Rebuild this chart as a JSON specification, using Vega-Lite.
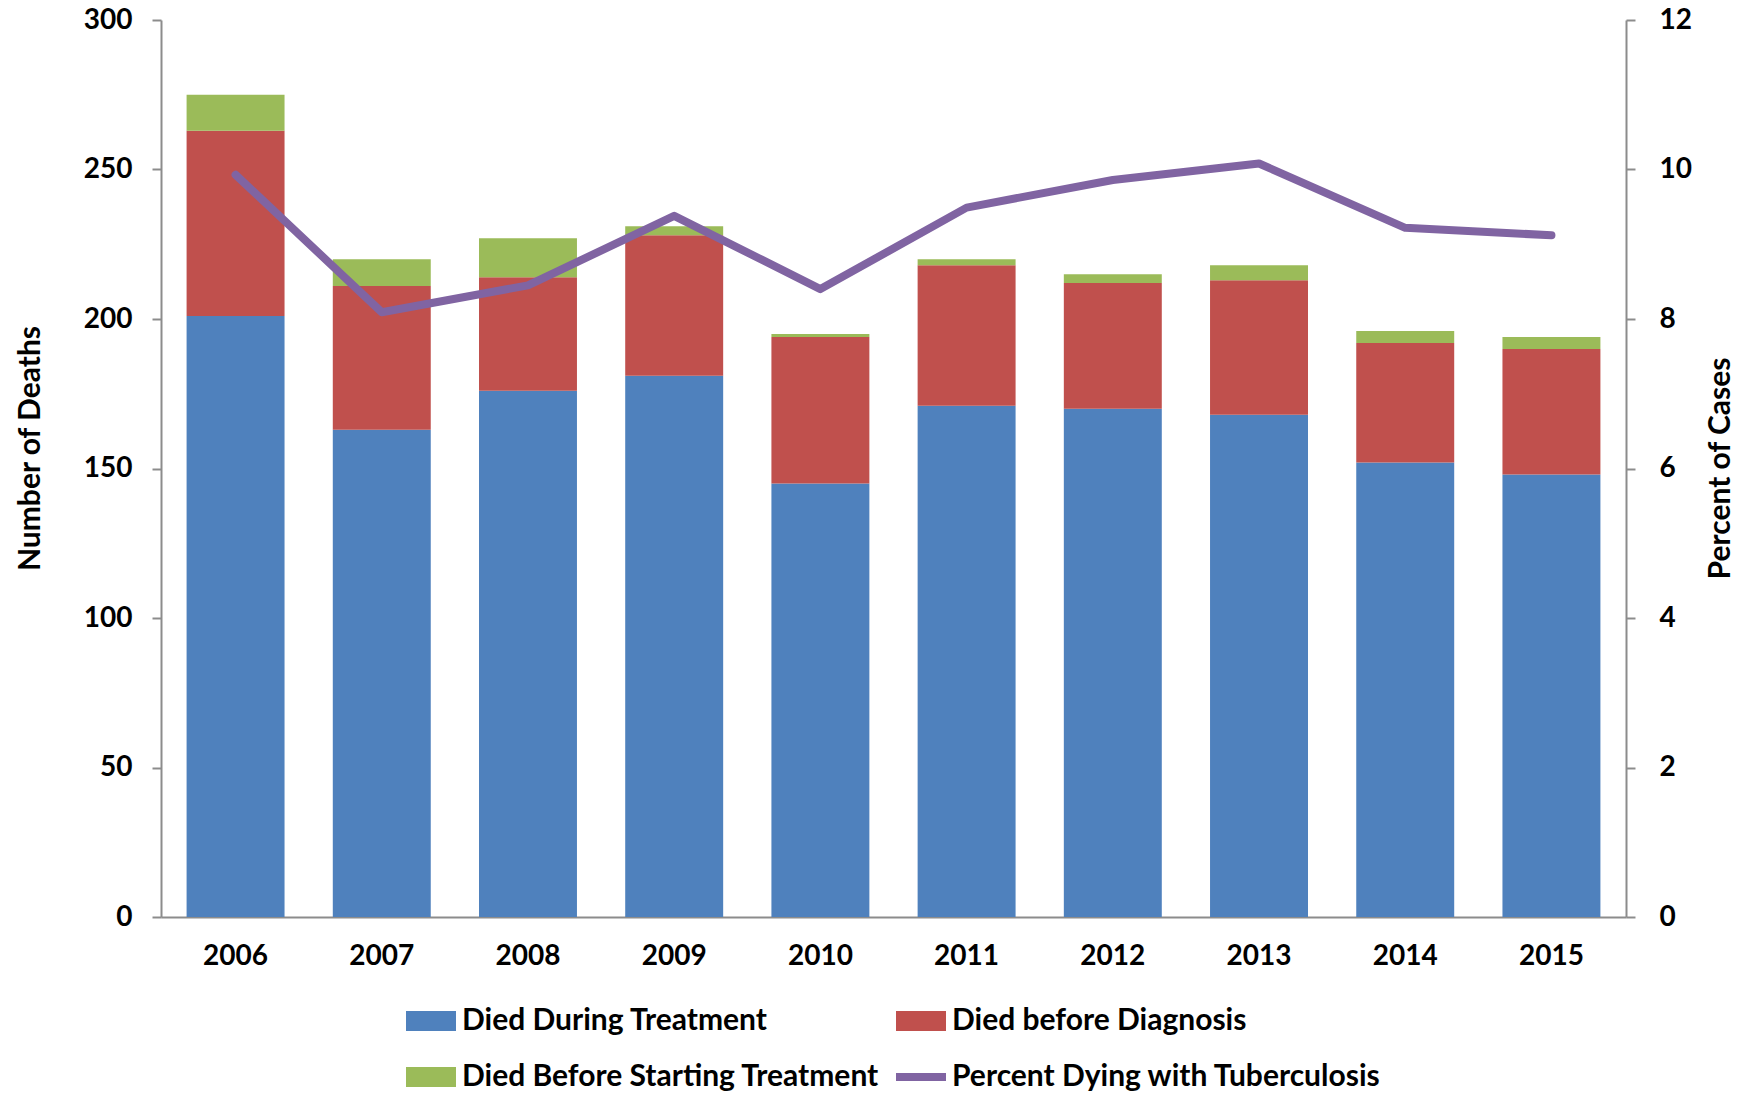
{
  "$schema": "https://vega.github.io/schema/vega-lite/v6.json",
  "width": 1465,
  "height": 897,
  "autosize": {"type": "none"},
  "padding": {"left": 161, "top": 20, "right": 117, "bottom": 176},
  "background": "white",
  "config": {
    "font": "Lato",
    "view": {"stroke": null},
    "axis": {"labelFont": "Lato", "labelFontWeight": "bold", "labelFontSize": 28, "labelColor": "black", "titleFont": "Lato", "titleFontWeight": "bold", "titleFontSize": 30, "titleColor": "black", "domainColor": "#8c8c8c", "tickColor": "#8c8c8c", "domainWidth": 2, "tickWidth": 2, "grid": false},
    "legend": {"labelFont": "Lato", "labelFontWeight": "bold", "labelFontSize": 30, "labelColor": "black"}
  },
  "datasets": {
    "deaths": [
      {"year": "2006", "category": "Died During Treatment", "order": 1, "deaths": 201},
      {"year": "2006", "category": "Died before Diagnosis", "order": 2, "deaths": 62},
      {"year": "2006", "category": "Died Before Starting Treatment", "order": 3, "deaths": 12},
      {"year": "2007", "category": "Died During Treatment", "order": 1, "deaths": 163},
      {"year": "2007", "category": "Died before Diagnosis", "order": 2, "deaths": 48},
      {"year": "2007", "category": "Died Before Starting Treatment", "order": 3, "deaths": 9},
      {"year": "2008", "category": "Died During Treatment", "order": 1, "deaths": 176},
      {"year": "2008", "category": "Died before Diagnosis", "order": 2, "deaths": 38},
      {"year": "2008", "category": "Died Before Starting Treatment", "order": 3, "deaths": 13},
      {"year": "2009", "category": "Died During Treatment", "order": 1, "deaths": 181},
      {"year": "2009", "category": "Died before Diagnosis", "order": 2, "deaths": 47},
      {"year": "2009", "category": "Died Before Starting Treatment", "order": 3, "deaths": 3},
      {"year": "2010", "category": "Died During Treatment", "order": 1, "deaths": 145},
      {"year": "2010", "category": "Died before Diagnosis", "order": 2, "deaths": 49},
      {"year": "2010", "category": "Died Before Starting Treatment", "order": 3, "deaths": 1},
      {"year": "2011", "category": "Died During Treatment", "order": 1, "deaths": 171},
      {"year": "2011", "category": "Died before Diagnosis", "order": 2, "deaths": 47},
      {"year": "2011", "category": "Died Before Starting Treatment", "order": 3, "deaths": 2},
      {"year": "2012", "category": "Died During Treatment", "order": 1, "deaths": 170},
      {"year": "2012", "category": "Died before Diagnosis", "order": 2, "deaths": 42},
      {"year": "2012", "category": "Died Before Starting Treatment", "order": 3, "deaths": 3},
      {"year": "2013", "category": "Died During Treatment", "order": 1, "deaths": 168},
      {"year": "2013", "category": "Died before Diagnosis", "order": 2, "deaths": 45},
      {"year": "2013", "category": "Died Before Starting Treatment", "order": 3, "deaths": 5},
      {"year": "2014", "category": "Died During Treatment", "order": 1, "deaths": 152},
      {"year": "2014", "category": "Died before Diagnosis", "order": 2, "deaths": 40},
      {"year": "2014", "category": "Died Before Starting Treatment", "order": 3, "deaths": 4},
      {"year": "2015", "category": "Died During Treatment", "order": 1, "deaths": 148},
      {"year": "2015", "category": "Died before Diagnosis", "order": 2, "deaths": 42},
      {"year": "2015", "category": "Died Before Starting Treatment", "order": 3, "deaths": 4}
    ],
    "percent": [
      {"year": "2006", "percent": 9.93},
      {"year": "2007", "percent": 8.09},
      {"year": "2008", "percent": 8.45},
      {"year": "2009", "percent": 9.38},
      {"year": "2010", "percent": 8.4},
      {"year": "2011", "percent": 9.49},
      {"year": "2012", "percent": 9.86},
      {"year": "2013", "percent": 10.08},
      {"year": "2014", "percent": 9.22},
      {"year": "2015", "percent": 9.12}
    ]
  },
  "encoding": {
    "x": {
      "field": "year", "type": "nominal",
      "scale": {"paddingInner": 0.33, "paddingOuter": 0.175},
      "axis": {"title": null, "labelAngle": 0, "ticks": false, "labelPadding": 25}
    }
  },
  "layer": [
    {
      "data": {"name": "deaths"},
      "mark": {"type": "bar"},
      "encoding": {
        "y": {
          "field": "deaths", "type": "quantitative", "stack": "zero",
          "scale": {"domain": [0, 300], "nice": false},
          "axis": {"title": "Number of Deaths", "values": [0, 50, 100, 150, 200, 250, 300], "tickSize": 9, "labelPadding": 20, "titleX": -131, "titleY": 428, "titleAngle": 270, "titleAlign": "center", "titleBaseline": "middle"}
        },
        "color": {
          "field": "category", "type": "nominal",
          "scale": {
            "domain": ["Died During Treatment", "Died before Diagnosis", "Died Before Starting Treatment", "Percent Dying with Tuberculosis"],
            "range": ["#4F81BD", "#C0504D", "#9BBB59", "#8064A2"]
          },
          "legend": {
            "title": null,
            "orient": "none",
            "legendX": 245,
            "legendY": 976,
            "direction": "horizontal",
            "columns": 2,
            "columnPadding": 16,
            "rowPadding": 16,
            "symbolSize": 2500,
            "symbolType": "M-1,-0.4H1V0.4H-1Z",
            "labelOffset": 6,
            "labelLimit": 700,
            "encode": {
              "symbols": {
                "update": {
                  "shape": {"signal": "datum.value === 'Percent Dying with Tuberculosis' ? 'M-1,-0.16H1V0.16H-1Z' : 'M-1,-0.4H1V0.4H-1Z'"},
                  "fill": {"signal": "scale('color', datum.value)"},
                  "strokeWidth": {"value": 0},
                  "opacity": {"value": 1}
                }
              }
            }
          }
        },
        "order": {"field": "order", "type": "quantitative"}
      }
    },
    {
      "data": {"name": "percent"},
      "mark": {"type": "line", "strokeWidth": 8, "strokeCap": "round", "strokeJoin": "round"},
      "encoding": {
        "y": {
          "field": "percent", "type": "quantitative",
          "scale": {"domain": [0, 12], "nice": false},
          "axis": {"orient": "right", "title": "Percent of Cases", "values": [0, 2, 4, 6, 8, 10, 12], "tickSize": 9, "labelPadding": 24, "titleX": 94, "titleY": 448, "titleAngle": 270, "titleAlign": "center", "titleBaseline": "middle"}
        },
        "color": {"datum": "Percent Dying with Tuberculosis"}
      }
    }
  ],
  "resolve": {"scale": {"y": "independent"}}
}
